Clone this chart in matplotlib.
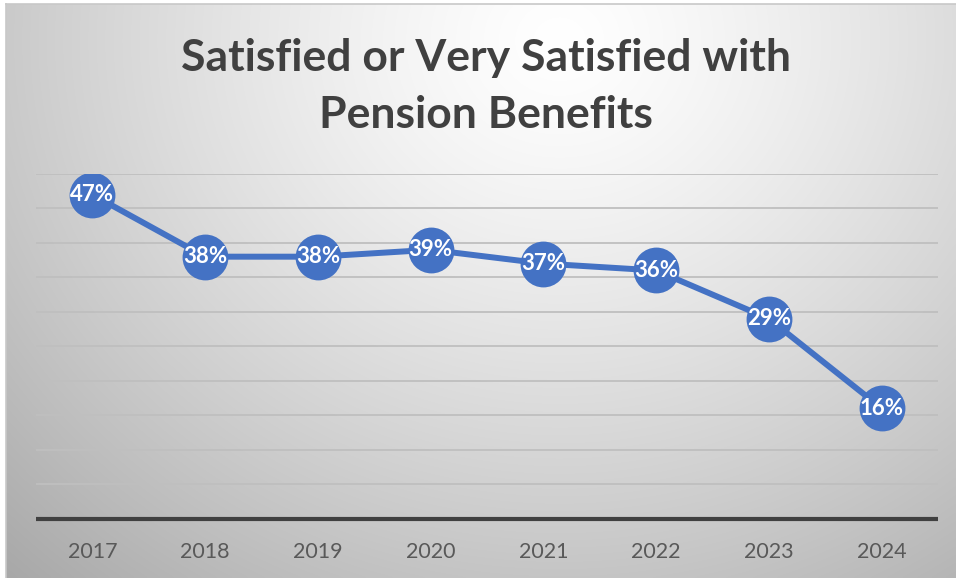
import numpy as np
import matplotlib
matplotlib.use("Agg")
import matplotlib.pyplot as plt

years = ["2017", "2018", "2019", "2020", "2021", "2022", "2023", "2024"]
satisfied_pct = [47, 38, 38, 39, 37, 36, 29, 16]
title_lines = ["Satisfied or Very Satisfied with", "Pension Benefits"]

W, H, DPI = 956, 578, 100
fig = plt.figure(figsize=(W / DPI, H / DPI), dpi=DPI)
fig.patch.set_facecolor("white")

# Chart-area background: soft radial gradient, light near the title
bg = fig.add_axes([6 / W, 0, 1 - 6 / W, 1 - 4 / H])
bg.set_axis_off()
gx, gy = np.meshgrid(np.linspace(6, W, 400), np.linspace(4, H, 250))
r = np.sqrt(((gx - 560) / 620) ** 2 + ((gy - 40) / 560) ** 2)
shade = np.clip(1.0 - 0.24 * np.clip(r, 0, 1.3) ** 1.3, 0, 1)
bg.imshow(np.dstack([shade] * 3), extent=[0, 1, 0, 1], aspect="auto",
          origin="upper", interpolation="bicubic")
bg.set_xlim(0, 1)
bg.set_ylim(0, 1)
# thin frame line along top and left
fig.add_artist(plt.Line2D([6 / W, 1], [1 - 4 / H, 1 - 4 / H], color="#c8c8c8", lw=1.2))
fig.add_artist(plt.Line2D([6 / W, 6 / W], [0, 1 - 4 / H], color="#c8c8c8", lw=1.2))

left, right = 36 / W, 938 / W
bottom, top = 1 - 518.5 / H, 1 - 174 / H
ax = fig.add_axes([left, bottom, right - left, top - bottom])
ax.patch.set_alpha(0)

x = np.arange(len(years))
ax.set_xlim(-0.5, len(years) - 0.5)
ax.set_ylim(0, 50)

for v in range(5, 51, 5):
    ax.axhline(v, color="#bfbfbf", lw=1.3, zorder=1)
ax.axhline(0, color="#404040", lw=3.0, zorder=2, clip_on=False,
           solid_capstyle="butt")

ax.plot(x, satisfied_pct, color="#4472c4", lw=4.3, zorder=3,
        solid_capstyle="round", solid_joinstyle="round")
ax.scatter(x, satisfied_pct, s=33 ** 2, color="#4472c4", zorder=4, linewidths=0)
for xi, v in zip(x, satisfied_pct):
    ax.text(xi, v, f"{v}%", ha="center", va="center", color="white",
            fontsize=16, fontweight="bold", family="Lato", zorder=5)

ax.set_xticks(x)
ax.set_xticklabels(years, fontsize=15.5, color="#595959", family="Lato")
ax.tick_params(axis="x", length=0, pad=17)
ax.set_yticks([])
for s in ax.spines.values():
    s.set_visible(False)

fig.text(486 / W, 1 - 71 / H, title_lines[0], ha="center", va="baseline",
         fontsize=32, fontweight="bold", color="#404040", family="Lato")
fig.text(486 / W, 1 - 128 / H, title_lines[1], ha="center", va="baseline",
         fontsize=32, fontweight="bold", color="#404040", family="Lato")

fig.savefig("out.png", dpi=DPI)
